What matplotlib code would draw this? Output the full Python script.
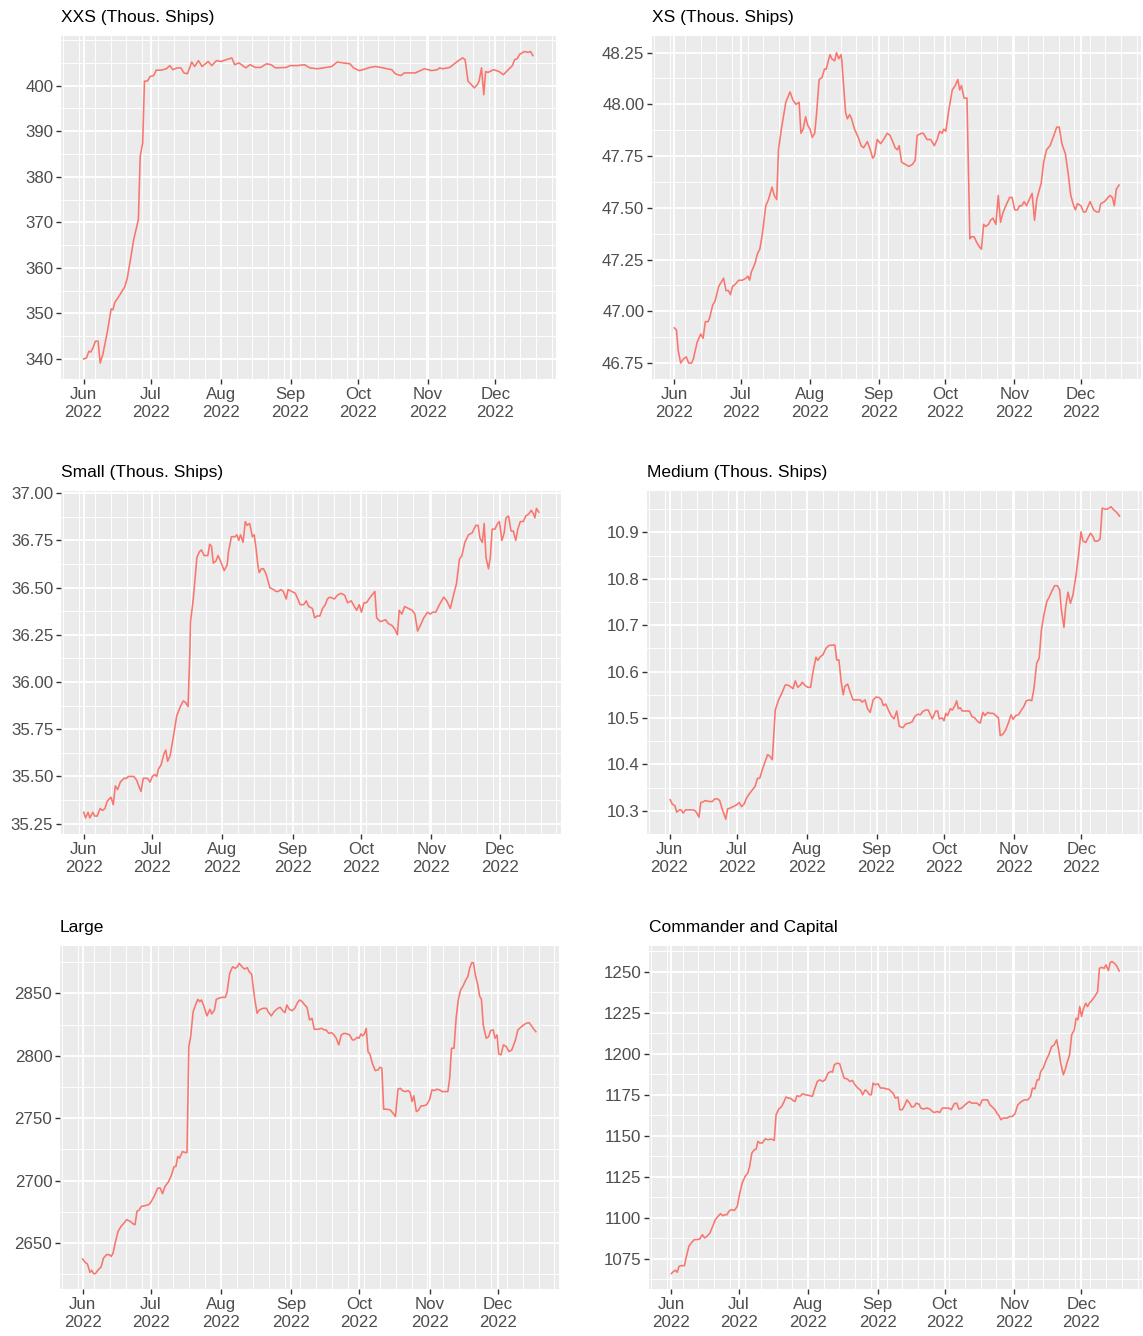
import numpy as np
import matplotlib
matplotlib.use("Agg")
import matplotlib.pyplot as plt
import matplotlib.dates as mdates
from matplotlib.ticker import FixedLocator, MultipleLocator, FormatStrFormatter
from datetime import datetime

plt.rcParams['font.family'] = ['Liberation Sans', 'DejaVu Sans']

# days since 2022-06-01
xxs_days = [0, 1.3, 2.4, 3.2, 4.2, 5.3, 6.5, 7.4, 8.6, 10.5,
            12.3, 13.1, 13.9, 15.8, 18.3, 19.4, 21.0, 22.3, 24.4, 25.2,
            26.3, 27.1, 28.4, 29.6, 31.2, 32.3, 34.4, 36.8, 38.4, 39.7,
            41.7, 43.3, 44.6, 46.2, 48.1, 49.4, 51.1, 52.7, 55.4, 57.0,
            59.1, 61.1, 63.5, 65.9, 67.2, 69.1, 72.1, 74.0, 76.4, 78.8,
            81.3, 83.4, 85.3, 90.1, 91.8, 95.0, 98.2, 100.6, 103.9, 107.9,
            110.3, 112.8, 115.2, 118.4, 120.0, 122.5, 124.1, 127.3, 129.7, 132.1,
            137.0, 138.6, 141.0, 142.6, 147.5, 151.5, 154.8, 157.2, 158.3, 159.6,
            162.8, 166.1, 168.5, 169.6, 170.9, 173.7, 175.0, 175.8, 176.9, 177.9,
            178.7, 179.8, 182.2, 184.7, 186.6, 188.4, 190.6, 191.6, 192.7, 193.9,
            196.0, 197.6, 198.7, 199.7]
xxs_vals = [340.0, 340.2, 341.7, 341.5, 342.4, 343.9, 343.9, 339.1, 341.0, 345.7,
            351.0, 350.8, 352.4, 353.8, 355.8, 357.6, 362.2, 366.2, 370.6, 384.5,
            387.4, 401.0, 401.0, 402.0, 402.2, 403.4, 403.4, 403.7, 404.4, 403.5,
            403.9, 403.9, 402.8, 402.6, 405.2, 404.2, 405.5, 404.2, 405.3, 404.4,
            405.5, 405.3, 405.7, 406.1, 404.6, 405.0, 403.9, 404.6, 404.0, 404.0,
            404.8, 404.6, 403.9, 404.0, 404.4, 404.4, 404.6, 403.9, 403.7, 404.0,
            404.2, 405.2, 405.0, 404.8, 403.9, 403.3, 403.5, 404.0, 404.2, 404.0,
            403.5, 402.6, 402.2, 402.8, 402.8, 403.7, 403.3, 403.5, 403.9, 403.7,
            404.0, 405.3, 406.1, 405.7, 401.0, 399.5, 400.2, 401.0, 403.9, 398.0,
            403.1, 402.9, 403.5, 403.1, 402.4, 403.3, 404.4, 405.7, 405.9, 406.9,
            407.5, 407.3, 407.5, 406.6]

xs_days = [0.0, 1.0, 1.8, 2.9, 4.2, 5.4, 6.5, 7.8, 8.6, 10.3, 11.9, 13.0, 14.0, 15.2, 16.0,
           17.3, 18.4, 20.0, 22.2, 23.3, 24.4, 25.3, 26.2, 27.4, 29.0, 30.6, 32.3, 33.1, 33.9,
           34.7, 36.3, 37.5, 38.5, 39.6, 41.2, 42.4, 44.0, 45.0, 46.1, 46.9, 48.2, 50.2, 52.1,
           53.4, 54.8, 56.2, 57.0, 58.0, 59.1, 60.0, 61.1, 62.1, 63.2, 64.0, 65.2, 66.5, 67.6,
           68.4, 69.3, 70.1, 70.9, 72.2, 73.0, 74.0, 75.0, 75.4, 77.1, 77.9, 78.9, 79.8, 81.1,
           82.8, 84.1, 85.2, 86.9, 88.2, 89.3, 90.1, 91.3, 92.9, 94.2, 95.8, 97.1, 98.3, 99.4,
           100.4, 101.2, 102.3, 104.0, 105.6, 107.2, 108.4, 109.3, 111.3, 112.1, 113.7, 115.4,
           117.0, 118.3, 119.4, 120.6, 121.2, 122.2, 123.5, 125.1, 126.4, 127.6, 128.4, 129.2,
           130.4, 131.7, 133.0, 133.6, 134.9, 136.2, 137.4, 138.2, 139.2, 140.1, 141.4, 142.3,
           143.4, 144.7, 145.8, 146.8, 148.0, 149.6, 150.9, 152.0, 153.2, 154.5, 155.3, 156.4,
           157.4, 158.5, 159.7, 161.0, 162.1, 163.1, 165.1, 166.2, 167.5, 169.1, 170.8, 172.1,
           173.2, 174.4, 176.0, 177.3, 178.4, 179.7, 180.5, 181.4, 183.0, 184.1, 185.1, 187.1,
           188.7, 190.0, 191.1, 191.9, 193.6, 195.2, 196.0, 197.1, 198.0, 198.9, 200.1]
xs_vals = [46.92, 46.91, 46.81, 46.75, 46.77, 46.78, 46.75, 46.75, 46.77, 46.85, 46.89, 46.87,
           46.95, 46.95, 46.97, 47.03, 47.05, 47.12, 47.16, 47.10, 47.10, 47.08, 47.12, 47.13,
           47.15, 47.15, 47.16, 47.17, 47.15, 47.19, 47.23, 47.28, 47.30, 47.37, 47.51, 47.54,
           47.60, 47.56, 47.54, 47.78, 47.88, 48.01, 48.06, 48.02, 48.00, 48.01, 47.86, 47.88,
           47.94, 47.90, 47.88, 47.84, 47.86, 47.95, 48.12, 48.13, 48.17, 48.17, 48.21, 48.24,
           48.22, 48.21, 48.25, 48.22, 48.24, 48.21, 47.96, 47.93, 47.95, 47.93, 47.88, 47.84,
           47.80, 47.79, 47.82, 47.78, 47.74, 47.75, 47.83, 47.81, 47.83, 47.86, 47.85, 47.82,
           47.79, 47.78, 47.80, 47.72, 47.71, 47.70, 47.71, 47.73, 47.85, 47.86, 47.86, 47.83,
           47.83, 47.80, 47.83, 47.87, 47.86, 47.88, 47.87, 47.97, 48.07, 48.09, 48.12, 48.07,
           48.09, 48.03, 48.03, 47.35, 47.36, 47.36, 47.33, 47.31, 47.30, 47.42, 47.41, 47.42,
           47.44, 47.45, 47.42, 47.56, 47.43, 47.48, 47.52, 47.55, 47.55, 47.49, 47.49, 47.51,
           47.51, 47.53, 47.51, 47.54, 47.57, 47.44, 47.54, 47.62, 47.72, 47.78, 47.80, 47.85,
           47.89, 47.89, 47.81, 47.76, 47.66, 47.56, 47.51, 47.49, 47.52, 47.51, 47.48, 47.48,
           47.53, 47.49, 47.48, 47.48, 47.52, 47.53, 47.55, 47.56, 47.55, 47.51, 47.59, 47.61]

small_days = [0, 0.8, 1.9, 2.7, 4.0, 4.8, 5.9, 7.2, 8.3, 9.3, 10.4, 12.0, 13.0, 13.9, 14.9,
              16.1, 17.7, 18.8, 19.7, 20.9, 22.0, 23.3, 24.2, 25.2, 26.2, 27.3, 28.1, 29.2,
              30.2, 31.3, 32.1, 32.9, 34.0, 35.3, 36.1, 36.9, 38.0, 39.3, 40.9, 42.5, 43.8,
              44.9, 45.9, 46.7, 47.0, 48.2, 49.0, 49.8, 50.9, 51.8, 53.0, 54.6, 55.4, 56.2,
              57.0, 58.1, 59.1, 60.2, 61.8, 63.1, 63.7, 65.0, 66.6, 67.4, 68.2, 69.0, 70.1,
              71.1, 71.9, 73.0, 74.2, 75.0, 75.8, 76.6, 77.2, 78.2, 79.1, 80.3, 81.9, 83.5,
              84.6, 85.6, 86.7, 87.8, 89.1, 89.9, 91.5, 93.1, 94.2, 95.2, 96.8, 97.9, 99.0,
              100.6, 101.6, 102.7, 103.9, 105.1, 106.3, 107.2, 108.3, 110.3, 111.6, 113.2,
              114.8, 116.1, 117.7, 119.1, 120.1, 121.2, 122.2, 123.3, 124.4, 125.5, 126.8,
              128.1, 128.9, 130.5, 132.8, 134.0, 135.6, 136.9, 138.0, 138.8, 140.0, 141.2,
              142.9, 144.5, 145.7, 146.9, 148.5, 149.6, 151.3, 152.5, 153.6, 154.9, 156.5,
              158.4, 159.7, 161.3, 162.9, 164.0, 165.3, 166.4, 167.7, 169.3, 170.9, 172.5,
              173.5, 174.4, 175.4, 176.2, 177.0, 178.1, 178.9, 179.7, 180.9, 182.1, 182.9,
              184.0, 185.0, 185.8, 186.9, 188.0, 189.0, 190.1, 191.0, 192.1, 193.4, 194.5,
              195.8, 196.9, 197.9, 198.5, 199.2, 200.2]
small_vals = [35.31, 35.28, 35.31, 35.28, 35.31, 35.29, 35.29, 35.33, 35.32, 35.33, 35.37,
              35.39, 35.35, 35.45, 35.43, 35.47, 35.49, 35.49, 35.50, 35.50, 35.50, 35.48,
              35.45, 35.42, 35.49, 35.49, 35.49, 35.47, 35.50, 35.51, 35.50, 35.54, 35.56,
              35.62, 35.64, 35.58, 35.61, 35.70, 35.82, 35.87, 35.90, 35.89, 35.87, 36.16,
              36.32, 36.44, 36.55, 36.66, 36.69, 36.70, 36.67, 36.67, 36.73, 36.72, 36.63,
              36.64, 36.67, 36.64, 36.59, 36.62, 36.69, 36.77, 36.77, 36.78, 36.75, 36.78,
              36.74, 36.85, 36.83, 36.84, 36.77, 36.78, 36.71, 36.62, 36.58, 36.60, 36.60,
              36.57, 36.50, 36.49, 36.48, 36.48, 36.49, 36.48, 36.44, 36.49, 36.48, 36.47,
              36.44, 36.41, 36.41, 36.43, 36.40, 36.39, 36.34, 36.35, 36.35, 36.39, 36.41,
              36.44, 36.45, 36.44, 36.46, 36.47, 36.46, 36.42, 36.43, 36.40, 36.38, 36.41,
              36.37, 36.42, 36.42, 36.44, 36.46, 36.48, 36.34, 36.32, 36.33, 36.31, 36.30,
              36.28, 36.25, 36.38, 36.36, 36.40, 36.39, 36.38, 36.36, 36.27, 36.31, 36.34,
              36.37, 36.36, 36.37, 36.37, 36.41, 36.45, 36.43, 36.39, 36.47, 36.52, 36.65,
              36.67, 36.74, 36.78, 36.79, 36.83, 36.83, 36.76, 36.74, 36.84, 36.66, 36.60,
              36.66, 36.81, 36.81, 36.84, 36.85, 36.75, 36.79, 36.87, 36.88, 36.80, 36.80,
              36.75, 36.81, 36.85, 36.85, 36.88, 36.89, 36.91, 36.89, 36.87, 36.92, 36.90]

medium_days = [0.3, 1.3, 2.4, 3.2, 4.4, 5.2, 6.1, 7.1, 8.9, 10.5, 11.6, 12.4, 13.1, 13.9,
               14.9, 15.8, 17.8, 19.1, 19.9, 21.3, 22.3, 23.4, 25.0, 25.8, 27.0, 28.3, 29.9,
               31.0, 32.0, 33.1, 34.2, 35.1, 36.8, 38.0, 39.1, 40.1, 41.2, 42.3, 43.6, 44.7,
               45.7, 47.0, 48.5, 50.1, 51.4, 52.5, 53.6, 54.9, 55.9, 57.0, 58.2, 59.0, 60.1,
               61.4, 62.7, 63.8, 65.1, 65.9, 67.0, 68.2, 69.5, 70.8, 72.4, 73.5, 74.3, 75.3,
               76.3, 77.2, 77.9, 79.2, 80.5, 81.6, 83.2, 84.8, 85.6, 86.9, 88.0, 89.2, 90.5,
               91.8, 93.2, 94.2, 95.0, 96.1, 97.3, 98.5, 99.8, 101.0, 102.1, 103.7, 105.0,
               106.6, 107.9, 109.0, 110.3, 111.5, 112.8, 113.9, 115.0, 116.8, 118.3, 119.2,
               119.9, 121.2, 122.0, 122.8, 123.6, 124.8, 125.7, 126.9, 127.6, 128.4, 129.2,
               130.1, 131.7, 133.3, 134.4, 135.7, 137.0, 138.1, 139.3, 140.2, 141.4, 142.5,
               143.8, 145.1, 146.2, 147.0, 148.2, 149.4, 150.6, 151.8, 152.7, 153.8, 155.1,
               156.4, 157.5, 158.6, 159.9, 161.0, 162.0, 163.2, 164.3, 165.3, 166.4, 167.7,
               168.8, 170.0, 171.2, 172.4, 173.4, 174.1, 175.3, 176.1, 177.1, 178.2, 179.3,
               180.6, 181.8, 182.9, 183.8, 185.0, 186.1, 187.1, 188.2, 189.0, 190.3, 191.4,
               192.3, 193.5, 194.7, 195.5, 196.3, 197.1, 198.7, 200.0]
medium_vals = [10.324, 10.314, 10.311, 10.297, 10.302, 10.302, 10.295, 10.302, 10.302, 10.302,
               10.299, 10.293, 10.286, 10.318, 10.319, 10.322, 10.320, 10.320, 10.325, 10.326,
               10.322, 10.304, 10.282, 10.304, 10.306, 10.309, 10.313, 10.318, 10.309, 10.314,
               10.327, 10.334, 10.345, 10.352, 10.370, 10.370, 10.388, 10.403, 10.421, 10.417,
               10.410, 10.517, 10.539, 10.555, 10.571, 10.571, 10.568, 10.563, 10.580, 10.566,
               10.571, 10.577, 10.571, 10.566, 10.566, 10.600, 10.631, 10.624, 10.632, 10.636,
               10.650, 10.656, 10.657, 10.657, 10.625, 10.625, 10.578, 10.550, 10.568, 10.573,
               10.553, 10.539, 10.539, 10.539, 10.534, 10.539, 10.520, 10.512, 10.539, 10.545,
               10.544, 10.539, 10.527, 10.530, 10.517, 10.505, 10.498, 10.515, 10.482, 10.479,
               10.487, 10.489, 10.492, 10.503, 10.508, 10.507, 10.515, 10.517, 10.517, 10.498,
               10.515, 10.515, 10.498, 10.500, 10.494, 10.510, 10.505, 10.520, 10.517, 10.527,
               10.537, 10.520, 10.522, 10.515, 10.515, 10.515, 10.503, 10.500, 10.492, 10.489,
               10.512, 10.505, 10.512, 10.510, 10.510, 10.505, 10.500, 10.462, 10.465, 10.474,
               10.489, 10.507, 10.497, 10.505, 10.507, 10.517, 10.525, 10.537, 10.539, 10.537,
               10.564, 10.618, 10.629, 10.690, 10.722, 10.751, 10.761, 10.774, 10.785, 10.785,
               10.776, 10.736, 10.695, 10.740, 10.771, 10.747, 10.765, 10.805, 10.851, 10.901,
               10.881, 10.878, 10.889, 10.898, 10.891, 10.881, 10.881, 10.886, 10.952, 10.950,
               10.950, 10.953, 10.955, 10.950, 10.943, 10.935]

large_days = [0, 1.1, 2.1, 3.2, 4.0, 4.8, 5.6, 6.9, 8.1, 9.2, 10.5, 11.8, 12.6, 13.4, 14.5,
              15.6, 16.9, 18.2, 19.4, 21.0, 22.1, 23.1, 23.9, 25.0, 25.8, 27.4, 29.0, 29.8,
              31.5, 33.1, 34.2, 35.2, 36.3, 37.9, 39.2, 40.3, 41.1, 41.9, 42.7, 44.0, 45.2,
              46.0, 46.8, 47.6, 48.7, 50.0, 50.8, 51.6, 52.4, 53.5, 54.8, 56.1, 56.9, 58.1,
              58.9, 60.0, 61.3, 62.9, 63.7, 64.8, 66.1, 67.3, 68.2, 69.0, 70.2, 71.3, 72.6,
              73.4, 74.5, 75.8, 76.9, 77.9, 79.5, 81.0, 81.8, 83.1, 84.4, 86.0, 87.1, 88.2,
              89.2, 90.0, 91.1, 92.4, 93.5, 94.7, 95.6, 96.8, 97.9, 98.9, 100.0, 101.1, 102.1,
              103.7, 105.3, 106.5, 107.3, 108.5, 109.7, 110.8, 111.8, 112.9, 114.0, 115.3,
              116.6, 117.7, 118.9, 119.8, 121.0, 121.8, 122.7, 123.4, 124.2, 125.0, 125.8,
              126.6, 127.7, 129.0, 130.2, 131.1, 131.9, 132.7, 133.9, 135.5, 136.6, 137.9,
              139.0, 140.0, 141.1, 142.3, 143.5, 144.4, 145.2, 146.0, 147.1, 147.9, 149.2,
              150.3, 151.6, 152.9, 154.0, 155.2, 156.1, 157.3, 158.5, 159.7, 161.0, 161.8,
              162.6, 163.7, 164.7, 165.6, 166.6, 167.7, 168.9, 169.8, 170.6, 171.5, 172.3,
              173.1, 174.2, 175.0, 175.8, 176.6, 177.9, 179.0, 179.8, 181.0, 181.8, 182.7,
              183.4, 184.4, 185.5, 186.8, 187.9, 189.2, 190.8, 191.9, 193.1, 194.4, 195.6,
              196.8, 197.9, 198.9, 199.8]
large_vals = [2637.2, 2634.5, 2633.2, 2626.5, 2628.1, 2625.5, 2625.5, 2628.7, 2630.8, 2638.0,
              2640.7, 2640.7, 2639.3, 2642.0, 2651.3, 2659.3, 2663.3, 2666.0, 2668.7, 2667.3,
              2665.5, 2664.7, 2675.3, 2676.7, 2679.3, 2679.9, 2680.7, 2682.0, 2687.3, 2694.0,
              2694.0, 2689.5, 2695.3, 2699.3, 2704.7, 2711.3, 2711.3, 2719.3, 2718.0, 2723.3,
              2722.5, 2722.5, 2807.3, 2815.3, 2835.3, 2842.0, 2845.2, 2843.3, 2844.7, 2839.3,
              2831.9, 2837.2, 2833.5, 2836.7, 2845.2, 2846.0, 2846.8, 2846.8, 2851.3, 2866.0,
              2871.3, 2870.0, 2871.3, 2874.0, 2871.3, 2869.5, 2870.5, 2867.3, 2865.2, 2846.0,
              2834.0, 2836.7, 2838.0, 2838.0, 2835.3, 2831.9, 2835.3, 2838.0, 2838.8, 2836.1,
              2834.5, 2840.7, 2837.2, 2836.1, 2838.0, 2842.5, 2844.7, 2843.3, 2840.7, 2838.8,
              2828.7, 2830.0, 2821.2, 2821.2, 2822.0, 2820.7, 2820.7, 2818.0, 2818.5, 2816.7,
              2814.0, 2808.7, 2816.7, 2818.0, 2817.5, 2816.7, 2812.7, 2812.7, 2814.8, 2814.0,
              2817.5, 2815.9, 2817.5, 2822.0, 2803.3, 2801.5, 2794.0, 2788.1, 2788.7, 2790.8,
              2790.0, 2757.2, 2757.2, 2756.7, 2754.5, 2751.3, 2773.2, 2774.0, 2771.9, 2771.3,
              2772.1, 2770.5, 2763.3, 2767.9, 2755.3, 2756.1, 2759.9, 2759.9, 2760.7, 2764.7,
              2772.7, 2772.1, 2773.2, 2772.7, 2771.3, 2771.3, 2771.3, 2782.0, 2806.0, 2806.0,
              2831.3, 2844.7, 2852.7, 2855.9, 2860.7, 2863.3, 2870.0, 2874.5, 2874.5, 2864.7,
              2856.7, 2847.9, 2845.2, 2824.7, 2814.0, 2815.3, 2820.1, 2820.7, 2814.0, 2816.7,
              2801.5, 2800.7, 2808.7, 2807.3, 2803.3, 2804.7, 2812.7, 2820.7, 2822.8, 2824.7,
              2826.0, 2826.5, 2823.9, 2821.2, 2819.3]

cc_days = [0, 1.0, 1.8, 2.6, 3.4, 4.2, 5.0, 5.8, 6.7, 7.8, 9.1, 10.2, 11.4, 12.7, 13.8,
           14.8, 15.9, 17.2, 18.3, 19.6, 20.8, 21.9, 22.9, 24.0, 24.8, 25.6, 26.8, 28.1, 29.4,
           30.5, 31.6, 32.9, 34.1, 34.9, 35.9, 37.0, 37.8, 38.6, 39.4, 40.6, 41.9, 43.0, 44.3,
           45.4, 45.9, 46.7, 47.9, 49.2, 50.3, 51.1, 52.1, 53.2, 54.3, 55.2, 56.0, 57.3, 58.6,
           59.7, 61.3, 62.9, 63.8, 65.1, 66.2, 67.5, 68.6, 69.9, 71.1, 71.9, 72.7, 74.0, 75.1,
           75.9, 77.1, 78.4, 79.7, 80.8, 81.9, 83.2, 84.5, 85.3, 86.5, 87.4, 88.4, 89.2, 90.0,
           91.0, 92.2, 93.3, 94.6, 95.9, 97.0, 98.1, 99.1, 99.9, 101.1, 101.9, 103.0, 104.0,
           105.1, 106.3, 107.2, 108.4, 109.2, 110.5, 111.3, 112.4, 114.1, 115.3, 116.5, 117.3,
           118.6, 119.7, 120.9, 122.2, 123.8, 124.9, 126.2, 127.3, 128.3, 129.5, 130.6, 131.9,
           133.0, 134.0, 135.1, 136.4, 137.6, 138.7, 140.0, 141.1, 142.1, 143.3, 144.4, 145.4,
           146.2, 147.0, 148.1, 149.7, 151.0, 152.2, 153.3, 154.6, 156.2, 157.5, 159.1, 160.3,
           161.1, 162.2, 163.2, 164.0, 164.8, 165.9, 167.3, 168.4, 169.7, 170.8, 171.9, 172.8,
           173.7, 174.9, 175.7, 176.5, 177.7, 178.6, 179.8, 180.6, 181.4, 182.2, 183.0, 183.8,
           184.9, 185.7, 186.7, 187.8, 188.9, 190.2, 191.0, 192.1, 193.1, 193.9, 195.0, 195.8,
           196.6, 197.7, 198.7, 199.8]
cc_vals = [1066.1, 1067.5, 1068.1, 1066.9, 1070.5, 1070.9, 1070.9, 1070.9, 1076.6, 1082.7,
           1085.2, 1086.8, 1086.8, 1087.2, 1089.8, 1087.8, 1088.8, 1090.8, 1094.5, 1099.0,
           1101.0, 1102.6, 1101.4, 1102.0, 1102.0, 1104.0, 1105.1, 1104.6, 1107.1, 1115.2,
           1121.3, 1125.4, 1127.4, 1131.4, 1139.6, 1141.6, 1142.0, 1146.7, 1145.7, 1145.7,
           1148.3, 1147.7, 1148.1, 1147.7, 1147.3, 1162.9, 1166.4, 1168.0, 1171.0, 1173.7,
           1173.1, 1172.9, 1171.6, 1171.0, 1174.5, 1174.1, 1175.7, 1175.1, 1174.7, 1174.1,
           1178.1, 1183.2, 1184.2, 1183.2, 1184.2, 1188.3, 1189.3, 1188.9, 1193.4, 1194.4,
           1194.0, 1190.3, 1185.2, 1184.8, 1183.2, 1183.8, 1181.2, 1179.2, 1177.7, 1175.1,
           1178.1, 1177.1, 1175.1, 1175.1, 1182.2, 1181.2, 1181.8, 1179.2, 1179.2, 1178.7,
           1178.5, 1177.1, 1175.7, 1173.1, 1173.7, 1166.0, 1166.0, 1168.4, 1172.0, 1170.0,
           1167.6, 1168.0, 1170.0, 1169.4, 1167.0, 1166.4, 1167.0, 1166.4, 1164.9, 1164.3,
           1164.9, 1164.3, 1167.0, 1167.0, 1167.0, 1166.0, 1169.6, 1170.0, 1166.4, 1167.0,
           1168.4, 1170.0, 1171.0, 1170.0, 1170.0, 1170.0, 1168.4, 1172.0, 1172.0, 1172.0,
           1169.0, 1167.6, 1166.0, 1163.5, 1162.3, 1159.9, 1160.9, 1160.9, 1161.9, 1161.9,
           1163.5, 1169.0, 1171.0, 1172.0, 1172.0, 1174.1, 1179.2, 1178.7, 1184.2, 1184.2,
           1189.3, 1191.3, 1196.4, 1199.5, 1204.5, 1205.5, 1208.6, 1202.5, 1194.4, 1187.3,
           1190.3, 1194.4, 1199.5, 1211.6, 1214.7, 1221.8, 1220.8, 1228.9, 1222.8, 1227.3,
           1230.9, 1228.9, 1231.3, 1232.9, 1235.0, 1238.0, 1252.2, 1252.8, 1252.2, 1254.3,
           1250.8, 1255.7, 1256.3, 1255.3, 1253.7, 1250.6]

titles = ['XXS (Thous. Ships)', 'XS (Thous. Ships)', 'Small (Thous. Ships)',
          'Medium (Thous. Ships)', 'Large', 'Commander and Capital']
xxs_ticks = [340, 350, 360, 370, 380, 390, 400]
xs_ticks = [46.75, 47.00, 47.25, 47.50, 47.75, 48.00, 48.25]
small_ticks = [35.25, 35.50, 35.75, 36.00, 36.25, 36.50, 36.75, 37.00]
medium_ticks = [10.3, 10.4, 10.5, 10.6, 10.7, 10.8, 10.9]
large_ticks = [2650, 2700, 2750, 2800, 2850]
cc_ticks = [1075, 1100, 1125, 1150, 1175, 1200, 1225, 1250]

series = [(xxs_days, xxs_vals, xxs_ticks, '%.0f'),
          (xs_days, xs_vals, xs_ticks, '%.2f'),
          (small_days, small_vals, small_ticks, '%.2f'),
          (medium_days, medium_vals, medium_ticks, '%.1f'),
          (large_days, large_vals, large_ticks, '%.0f'),
          (cc_days, cc_vals, cc_ticks, '%.0f')]

# panel boxes in pixels: left, top, right, bottom
boxes = [(61, 36, 556, 379), (652, 36, 1141, 379),
         (61, 491, 561, 834), (647, 491, 1142, 834),
         (60, 946, 559, 1289), (649, 946, 1142, 1289)]
ylims = [(335.6, 410.9), (46.673, 48.33), (35.195, 37.012),
         (10.250, 10.989), (2613.2, 2887.9), (1056.7, 1265.8)]

W, H = 1143, 1336
fig = plt.figure(figsize=(W / 100, H / 100), dpi=100)
start = mdates.date2num(datetime(2022, 6, 1))

for i, (days, vals, yt, fmt) in enumerate(series):
    l, t, r, b = boxes[i]
    ax = fig.add_axes([l / W, 1 - b / H, (r - l) / W, (b - t) / H])
    ax.set_facecolor('#EBEBEB')
    ax.plot(start + np.array(days), vals, color='#F8766D', lw=1.15, zorder=3)
    ax.set_xlim(start - 10, start + 210)
    ax.set_ylim(*ylims[i])

    ax.xaxis.set_major_locator(mdates.MonthLocator())
    ax.xaxis.set_minor_locator(mdates.WeekdayLocator(byweekday=mdates.MO))
    ax.xaxis.set_major_formatter(mdates.DateFormatter('%b\n%Y'))
    step = yt[1] - yt[0]
    ax.yaxis.set_major_locator(FixedLocator(yt))
    ax.yaxis.set_minor_locator(MultipleLocator(step / 2))
    ax.yaxis.set_major_formatter(FormatStrFormatter(fmt))

    ax.grid(which='major', color='white', lw=1.3)
    ax.grid(which='minor', color='white', lw=0.65)
    ax.set_axisbelow(True)
    ax.tick_params(which='minor', length=0)
    ax.tick_params(which='major', length=3.5, width=1.0, color='#333333',
                   labelsize=12.2, labelcolor='#4D4D4D', pad=2)
    for lab in ax.get_xticklabels():
        lab.set_linespacing(1.3)
    for s in ax.spines.values():
        s.set_visible(False)

    ax.annotate(titles[i], xy=(0, 1), xycoords='axes fraction',
                xytext=(0, 13.5), textcoords='offset points',
                ha='left', va='center', fontsize=12.5, color='black')

fig.savefig('out.png', dpi=100, facecolor='white')
